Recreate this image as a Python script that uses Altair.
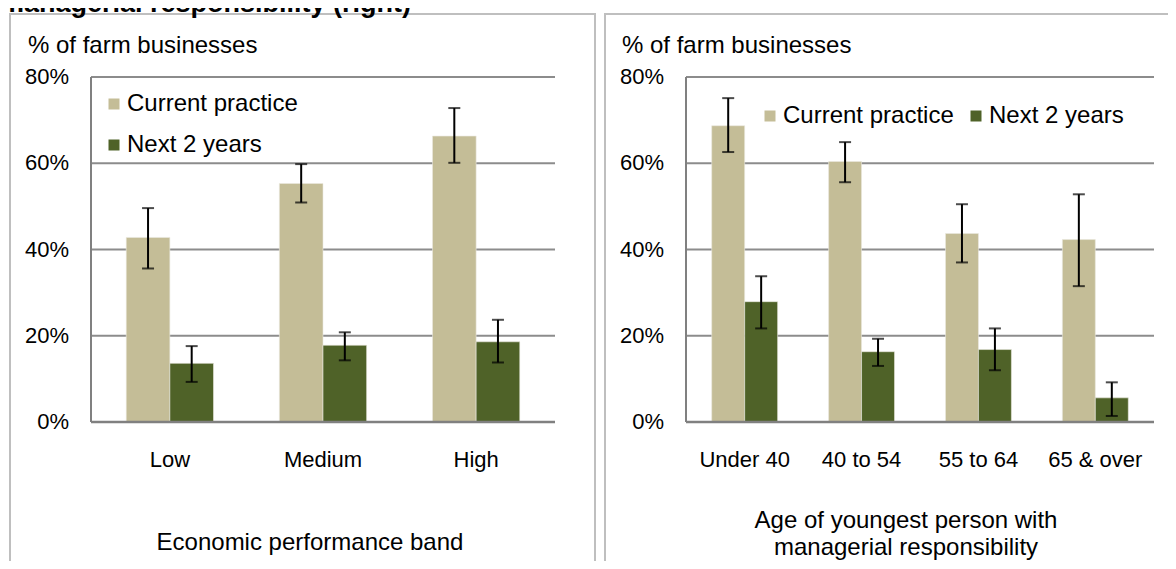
import altair as alt
import pandas as pd

# ---------------- data ----------------
TITLE = "managerial responsibility (right)"
Y_TITLE = "% of farm businesses"
SERIES = ["Current practice", "Next 2 years"]
COLORS = ["#c4bd97", "#4f6228"]
Y_TICKS = [0, 20, 40, 60, 80]
Y_TICK_LABELS = ["0%", "20%", "40%", "60%", "80%"]

econ_bands = ["Low", "Medium", "High"]
econ_current = [42.8, 55.3, 66.3]
econ_current_lo = [35.6, 50.9, 60.1]
econ_current_hi = [49.6, 59.8, 72.8]
econ_next = [13.6, 17.8, 18.6]
econ_next_lo = [9.3, 14.3, 13.8]
econ_next_hi = [17.6, 20.8, 23.7]
econ_title = "Economic performance band"

age_groups = ["Under 40", "40 to 54", "55 to 64", "65 & over"]
age_current = [68.7, 60.4, 43.7, 42.3]
age_current_lo = [62.6, 55.6, 37.0, 31.5]
age_current_hi = [75.1, 64.9, 50.5, 52.8]
age_next = [27.9, 16.3, 16.8, 5.6]
age_next_lo = [21.7, 13.0, 12.0, 1.4]
age_next_hi = [33.8, 19.3, 21.7, 9.2]
age_title = ["Age of youngest person with", "managerial responsibility"]

FONT = "Liberation Sans"
FS = 22
FS_BIG = 24


def table(cats, cur, cur_lo, cur_hi, nxt, nxt_lo, nxt_hi):
    rows = []
    for i, c in enumerate(cats):
        rows.append(dict(cat=c, series=SERIES[0], v=cur[i], lo=cur_lo[i], hi=cur_hi[i]))
        rows.append(dict(cat=c, series=SERIES[1], v=nxt[i], lo=nxt_lo[i], hi=nxt_hi[i]))
    return pd.DataFrame(rows)


yscale = alt.Scale(domain=[0, 80], range=[414, 69], nice=False, zero=True)
ticks_df = pd.DataFrame({"v": Y_TICKS, "label": Y_TICK_LABELS})


def panel(cats, df, x0, x1, pin, pout, frame, ylab_x, ytitle_x, legend, xtitle, xtitle_x, xtitle_y):
    xs = alt.Scale(domain=cats, range=[x0, x1], paddingInner=pin, paddingOuter=pout)
    X = alt.X("cat:N", scale=xs, axis=None, sort=cats)
    XO = alt.XOffset("series:N", sort=SERIES, scale=alt.Scale(domain=SERIES))
    Y = alt.Y("v:Q", scale=yscale, axis=None)
    base = alt.Chart(df)

    frame_l = alt.Chart(pd.DataFrame({"a": [0]})).mark_rect(
        fillOpacity=0, stroke="#bfbfbf", strokeWidth=2
    ).encode(x=alt.value(frame[0]), x2=alt.value(frame[1]), y=alt.value(6), y2=alt.value(620))

    grid = alt.Chart(ticks_df[ticks_df.v > 0]).mark_rule(color="#8c8c8c", strokeWidth=2).encode(
        y=alt.Y("v:Q", scale=yscale, axis=None), x=alt.value(x0), x2=alt.value(x1)
    )

    bars = base.mark_bar(stroke="#ebe9e0", strokeWidth=0.6).encode(
        x=X, xOffset=XO, y=Y,
        color=alt.Color("series:N", sort=SERIES,
                        scale=alt.Scale(domain=SERIES, range=COLORS),
                        legend=legend),
    )
    err = base.mark_rule(color="black", strokeWidth=2).encode(
        x=X, xOffset=XO, y=alt.Y("lo:Q", scale=yscale, axis=None), y2="hi:Q"
    )
    cap_lo = base.mark_tick(color="black", orient="horizontal", size=12, thickness=2).encode(
        x=X, xOffset=XO, y=alt.Y("lo:Q", scale=yscale, axis=None)
    )
    cap_hi = base.mark_tick(color="black", orient="horizontal", size=12, thickness=2).encode(
        x=X, xOffset=XO, y=alt.Y("hi:Q", scale=yscale, axis=None)
    )

    axis_b = alt.Chart(pd.DataFrame({"v": [0]})).mark_rule(color="#808080", strokeWidth=2.5).encode(
        y=alt.Y("v:Q", scale=yscale, axis=None), x=alt.value(x0), x2=alt.value(x1)
    )
    axis_l = alt.Chart(pd.DataFrame({"a": [0], "b": [80]})).mark_rule(color="#808080", strokeWidth=2).encode(
        y=alt.Y("a:Q", scale=yscale, axis=None), y2="b:Q", x=alt.value(x0)
    )

    ylabels = alt.Chart(ticks_df).mark_text(
        align="right", baseline="middle", font=FONT, fontSize=FS, color="black"
    ).encode(y=alt.Y("v:Q", scale=yscale, axis=None), x=alt.value(ylab_x), text="label:N")

    ytitle = alt.Chart(pd.DataFrame({"t": [Y_TITLE]})).mark_text(
        align="left", baseline="middle", font=FONT, fontSize=FS_BIG, color="black"
    ).encode(x=alt.value(ytitle_x), y=alt.value(38), text="t:N")

    xlabels = alt.Chart(pd.DataFrame({"cat": cats})).mark_text(
        align="center", baseline="middle", font=FONT, fontSize=FS, color="black"
    ).encode(x=X, y=alt.value(452), text="cat:N")

    xt = alt.Chart(pd.DataFrame({"a": [0]})).mark_text(
        text=xtitle, align="center", baseline="middle", font=FONT, fontSize=FS_BIG,
        color="black", lineHeight=27
    ).encode(x=alt.value(xtitle_x), y=alt.value(xtitle_y))

    return alt.layer(frame_l, grid, bars, err, cap_lo, cap_hi, axis_b, axis_l,
                     ylabels, ytitle, xlabels, xt)


left_legend = alt.Legend(
    title=None, orient="none", legendX=94, legendY=84, direction="vertical",
    symbolType="square", symbolSize=121, symbolStrokeWidth=0, labelFont=FONT,
    labelFontSize=FS_BIG, labelColor="black", labelOffset=1, rowPadding=17,
    labelLimit=0,
)
right_legend = alt.Legend(
    title=None, orient="none", legendX=750, legendY=96, direction="horizontal",
    columns=2, symbolType="square", symbolSize=121, symbolStrokeWidth=0,
    labelFont=FONT, labelFontSize=FS_BIG, labelColor="black", labelOffset=1,
    columnPadding=10, labelLimit=0,
)

left = panel(econ_bands,
             table(econ_bands, econ_current, econ_current_lo, econ_current_hi,
                   econ_next, econ_next_lo, econ_next_hi),
             83, 547, 0.43, 0.23, (2, 587), 61, 20, left_legend, econ_title, 302, 535)
right = panel(age_groups,
              table(age_groups, age_current, age_current_lo, age_current_hi,
                    age_next, age_next_lo, age_next_hi),
              678, 1146, 0.436, 0.22, (597, 1190), 656, 614, right_legend, age_title, 898, 513)

title = alt.Chart(pd.DataFrame({"t": [TITLE]})).mark_text(
    align="left", baseline="alphabetic", font=FONT, fontSize=27, fontWeight="bold", color="black"
).encode(x=alt.value(-8), y=alt.value(4), text="t:N")

chart = alt.layer(left, right, title).resolve_scale(
    x="independent", xOffset="independent", color="independent"
).resolve_legend(color="independent").properties(
    width=1160, height=553, padding=0, autosize=alt.AutoSizeParams(type="none"),
    background="white"
).configure_view(stroke=None)

chart.save("out.html", embed_options={"renderer": "svg", "actions": False})
